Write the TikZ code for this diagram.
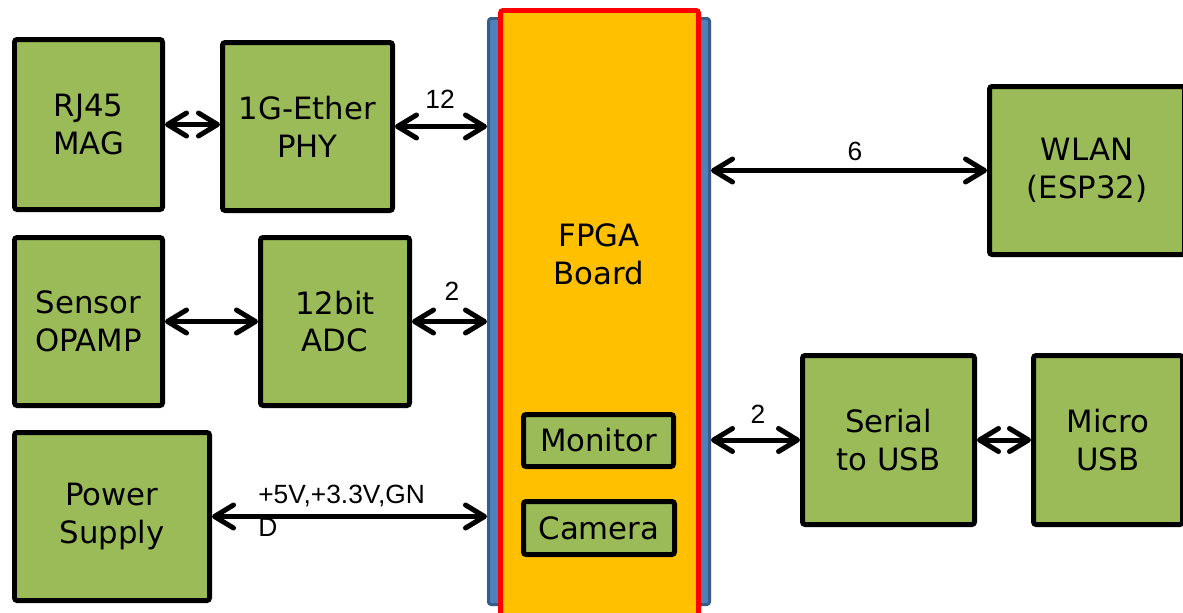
\documentclass[tikz,border=0pt]{standalone}
\usepackage{fontspec}
\setmainfont{DejaVu Sans}
\newfontfamily\etiq{Liberation Sans}
\usetikzlibrary{arrows.meta}

\definecolor{verde}{HTML}{9BBB59}
\definecolor{amarillo}{HTML}{FFC000}
\definecolor{azul}{HTML}{4F81BD}
\definecolor{azuloscuro}{HTML}{385D8A}

\begin{document}
\begin{tikzpicture}[x=0.02cm, y=-0.02cm,
    bloque/.style 2 args={draw=black, fill=verde, line width=0.1cm, rounded corners=1.5pt,
      minimum width=#1*0.02cm, minimum height=#2*0.02cm, inner sep=0pt, align=center,
      font=\fontsize{17.5}{21.5}\selectfont},
    enlace/.style={line width=0.1cm,
      {Straight Barb[length=3.8mm,width=4.6mm,round]}-{Straight Barb[length=3.8mm,width=4.6mm,round]}},
    cifra/.style={font=\etiq\fontsize{15}{18.7}\selectfont, inner sep=0pt}]
  % Marco fijo de la figura (en pixeles)
  \useasboundingbox (0,0) rectangle (1183,612);

  % Placa FPGA: fondo azul y placa amarilla con borde rojo
  \node[draw=azuloscuro, fill=azul, line width=0.06cm, rounded corners=1.5pt,
        minimum width=221*0.02cm, minimum height=586*0.02cm] (fpga) at (599,311.5) {};
  \node[draw=red, fill=amarillo, line width=0.1cm, rounded corners=1.5pt,
        minimum width=198*0.02cm, minimum height=629*0.02cm] (placa) at (599.5,325) {};
  \node[align=center, font=\fontsize{17.5}{21.5}\selectfont] (placatxt) at (599,254) {FPGA\\Board};

  % Bloques internos de la placa
  \node[bloque={150}{52}] (monitor) at (598.5,440.5) {Monitor};
  \node[bloque={151}{53}] (camara) at (599,528) {Camera};

  % Bloques de la izquierda
  \node[bloque={148}{170}] (rj45) at (88.5,124.5) {RJ45\\MAG};
  \node[bloque={170}{168}] (phy) at (307.5,126.5) {1G-Ether\\PHY};
  \node[bloque={148}{168}] (opamp) at (88.5,321.5) {Sensor\\OPAMP};
  \node[bloque={149}{168}] (adc) at (335,321.5) {12bit\\ADC};
  \node[bloque={195}{168}] (fuente) at (112,516.5) {Power\\Supply};

  % Bloques de la derecha
  \node[bloque={195}{168}] (wlan) at (1087,170.5) {WLAN\\(ESP32)};
  \node[bloque={172}{169}] (serie) at (888.5,440) {Serial\\to USB};
  \node[bloque={149}{169}] (micro) at (1108,440) {Micro\\USB};

  % Conexiones
  \draw[enlace] (rj45.east) -- (rj45.east -| phy.west);
  \draw[enlace] (phy.east) -- (phy.east -| fpga.west);
  \draw[enlace] (opamp.east) -- (opamp.east -| adc.west);
  \draw[enlace] (adc.east) -- (adc.east -| fpga.west);
  \draw[enlace] (fuente.east) -- (fuente.east -| fpga.west);
  \draw[enlace] (wlan.west -| fpga.east) -- (wlan.west);
  \draw[enlace] (serie.west -| fpga.east) -- (serie.west);
  \draw[enlace] (serie.east) -- (serie.east -| micro.west);

  % Numero de lineas de cada bus
  \node[cifra] (n12) at (440,99) {12};
  \node[cifra] (nadc) at (452,291) {2};
  \node[cifra] (nwlan) at (855,151) {6};
  \node[cifra] (nserie) at (758,414) {2};
  \node[cifra, align=left, anchor=north west] (nfuente) at (258,485) {+5V,+3.3V,GN\\D};
\end{tikzpicture}
\end{document}
